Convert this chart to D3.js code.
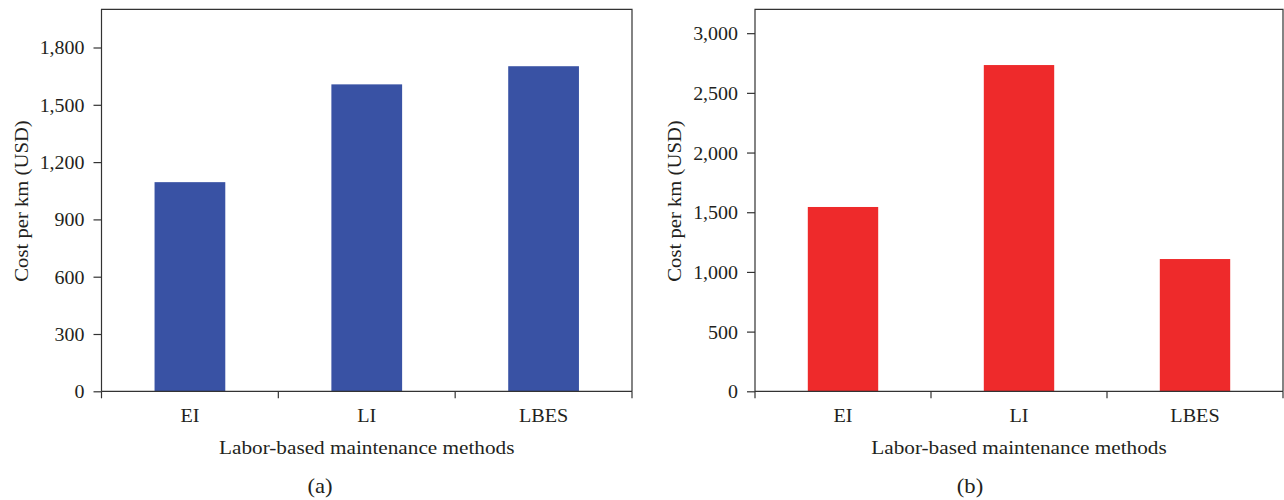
<html>
<head>
<style>
body { margin: 0; background: #fff; }
text { font-family: "Liberation Serif", "DejaVu Serif", serif; fill: #231f20; }
.axis path, .axis line { stroke: #333; stroke-width: 1.2; }
</style>
</head>
<body>
<script src="https://d3js.org/d3.v7.min.js"></script>
<script>

var categories = ["EI", "LI", "LBES"];
var costA = [1095, 1607, 1702];   // panel (a)
var costB = [1544, 2733, 1108];   // panel (b)
var ticksA = [0, 300, 600, 900, 1200, 1500, 1800];
var ticksB = [0, 500, 1000, 1500, 2000, 2500, 3000];

var xTitle = "Labor-based maintenance methods",
    yTitle = "Cost per km (USD)";

var W = 1284, H = 500;

var svg = d3.select("body").append("svg")
    .attr("width", W)
    .attr("height", H);

var fmt = d3.format(",");

// glyphs in the figure are a bit wider than Liberation Serif, so stretch them
function wide(s) { return " scale(" + s + ",1)"; }

function panel(o) {
  var g = svg.append("g");

  var x = d3.scaleBand()
      .domain(categories)
      .range([o.left, o.right])
      .paddingInner(0.6)
      .paddingOuter(0.3);

  var y = d3.scaleLinear()
      .domain([0, o.max])
      .range([391.3, 9.3]);

  // bars
  g.selectAll("rect")
    .data(o.values)
    .enter().append("rect")
      .attr("x", function(d, i) { return x(categories[i]); })
      .attr("y", function(d) { return y(d); })
      .attr("width", x.bandwidth())
      .attr("height", function(d) { return y(0) - y(d); })
      .attr("fill", o.color);

  // frame (top + sides)
  g.append("path")
      .attr("d", "M" + o.left + "," + y(0) + "V" + y(o.max) + "H" + o.right + "V" + y(0))
      .attr("fill", "none")
      .attr("stroke", "#333")
      .attr("stroke-width", 1.2);

  // y axis
  var ya = g.append("g")
      .attr("class", "axis")
      .attr("transform", "translate(" + o.left + ",0)")
      .call(d3.axisLeft(y).tickValues(o.ticks).tickFormat(fmt).tickSize(8));
  ya.select(".domain").remove();
  ya.selectAll("text")
      .attr("font-size", 19)
      .attr("x", null)
      .attr("dy", "0.34em")
      .attr("transform", "translate(-17,0)" + wide(1.05));

  // x axis: ticks sit on the band boundaries
  var xa = g.append("g")
      .attr("class", "axis")
      .attr("transform", "translate(0," + y(0) + ")");
  xa.append("line")
      .attr("x1", o.left).attr("x2", o.right);
  var bounds = d3.range(categories.length + 1).map(function(i) { return o.left + i * x.step(); });
  xa.selectAll(".tk")
    .data(bounds)
    .enter().append("line")
      .attr("class", "tk")
      .attr("x1", function(d) { return d; })
      .attr("x2", function(d) { return d; })
      .attr("y1", 0).attr("y2", 7);
  xa.selectAll(".lbl")
    .data(categories)
    .enter().append("text")
      .attr("class", "lbl")
      .attr("text-anchor", "middle")
      .attr("font-size", 18)
      .attr("transform", function(d) {
        return "translate(" + (x(d) + x.bandwidth() / 2) + ",31)" + wide(1.12);
      })
      .text(function(d) { return d; });

  // titles
  g.append("text")
      .attr("text-anchor", "middle")
      .attr("font-size", 18)
      .attr("transform", "translate(" + ((o.left + o.right) / 2) + ",454)" + wide(1.18))
      .text(xTitle);

  g.append("text")
      .attr("text-anchor", "middle")
      .attr("font-size", 18)
      .attr("transform", "translate(" + (o.left - 74) + ",201) rotate(-90)" + wide(1.15))
      .text(yTitle);

  g.append("text")
      .attr("text-anchor", "middle")
      .attr("font-size", 21)
      .attr("transform", "translate(" + o.caption + ",493)" + wide(1.08))
      .text(o.label);
}

panel({left: 101.5, right: 632, max: 2000, ticks: ticksA, values: costA,
       color: "#3952a4", caption: 320, label: "(a)"});
panel({left: 755, right: 1283, max: 3200, ticks: ticksB, values: costB,
       color: "#ee2a2b", caption: 970, label: "(b)"});

</script>
</body>
</html>
